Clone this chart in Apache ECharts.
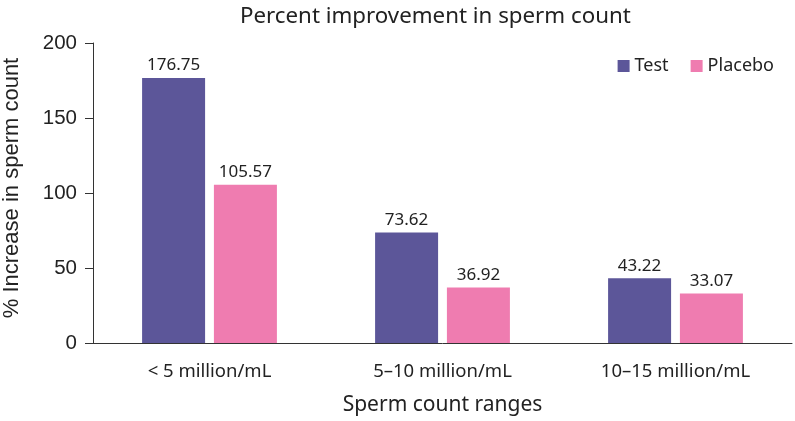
<!DOCTYPE html>
<html>
<head>
<meta charset="utf-8">
<script src="https://cdn.jsdelivr.net/npm/echarts@6/dist/echarts.min.js"></script>
<style>html,body{margin:0;padding:0;background:#fff;}#c{width:795px;height:421px;}</style>
</head>
<body>
<div id="c"></div>
<script>
const categories = ['< 5 million/mL', '5\u201310 million/mL', '10\u201315 million/mL'];
const testValues = [176.75, 73.62, 43.22];
const placeboValues = [105.57, 36.92, 33.07];
const yTicks = [0, 50, 100, 150, 200];

const humanist = 'Noto Sans';
const chart = echarts.init(document.getElementById('c'), null, {renderer: 'canvas'});
chart.setOption({
  animation: false,
  title: {
    text: 'Percent improvement in sperm count',
    left: 235, top: 1,
    textStyle: {fontFamily: humanist, fontSize: 22.3, fontWeight: 'normal', color: '#222'}
  },
  legend: {
    right: 16, top: 52,
    icon: 'rect', itemWidth: 12, itemHeight: 12, itemGap: 22,
    textStyle: {fontFamily: humanist, fontSize: 18, color: '#222'},
    data: ['Test', 'Placebo']
  },
  grid: {left: 93, right: 3, top: 43, bottom: 78, containLabel: false, outerBoundsMode: 'none'},
  xAxis: {
    type: 'category',
    data: categories,
    name: 'Sperm count ranges',
    nameLocation: 'middle',
    nameGap: 52,
    nameTextStyle: {fontFamily: humanist, fontSize: 21, color: '#222'},
    axisLine: {lineStyle: {color: '#333', width: 1}},
    axisTick: {alignWithLabel: true, length: 7, lineStyle: {color: '#333'}},
    axisLabel: {fontFamily: humanist, fontSize: 18.5, color: '#222', margin: 19}
  },
  yAxis: {
    type: 'value',
    min: yTicks[0], max: yTicks[yTicks.length - 1], interval: 50,
    name: '% Increase in sperm count',
    nameLocation: 'middle',
    nameGap: 70,
    nameTextStyle: {fontFamily: 'Liberation Sans', fontSize: 22, color: '#222', padding: [0, 0, 0, 10]},
    axisLine: {show: true, lineStyle: {color: '#333', width: 1}},
    axisTick: {show: true, length: 8, lineStyle: {color: '#333'}},
    splitLine: {show: false},
    axisLabel: {fontFamily: 'Liberation Sans', fontSize: 20.5, color: '#222', margin: 16}
  },
  series: [
    {
      name: 'Test', type: 'bar', data: testValues,
      barWidth: 63, barGap: '14%',
      itemStyle: {color: '#5c5699'},
      label: {show: true, position: 'top', distance: 4, fontFamily: humanist, fontSize: 17, color: '#222'}
    },
    {
      name: 'Placebo', type: 'bar', data: placeboValues,
      barWidth: 63, barGap: '14%',
      itemStyle: {color: '#ef7cb0'},
      label: {show: true, position: 'top', distance: 4, fontFamily: humanist, fontSize: 17, color: '#222'}
    }
  ]
});
</script>
</body>
</html>
